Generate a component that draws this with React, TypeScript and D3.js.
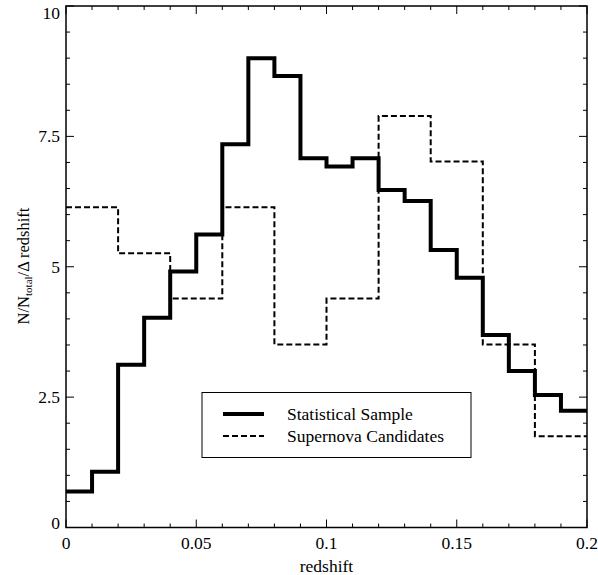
import * as d3 from "d3";

// bin edges for the statistical sample (0.01 wide) and supernova candidates (0.02 wide)
const sampleEdges = d3.range(0, 0.2001, 0.01).map((v) => +v.toFixed(3));
const sampleValues = [
  0.69, 1.07, 3.12, 4.02, 4.91, 5.62, 7.35, 9.0, 8.66, 7.08,
  6.92, 7.08, 6.47, 6.26, 5.32, 4.79, 3.69, 3.0, 2.54, 2.24,
];
const snEdges = d3.range(0, 0.2001, 0.02).map((v) => +v.toFixed(3));
const snValues = [6.14, 5.26, 4.39, 6.14, 3.51, 4.39, 7.89, 7.02, 3.51, 1.75];

const xTicks = [0, 0.05, 0.1, 0.15, 0.2];
const xTickLabels = ["0", "0.05", "0.1", "0.15", "0.2"];
const yTicks = [0, 2.5, 5, 7.5, 10];
const yTickLabels = ["0", "2.5", "5", "7.5", "10"];
const legendLabels = ["Statistical Sample", "Supernova Candidates"];

const W = 598;
const H = 575;
const M = { left: 66, right: 11, top: 6, bottom: 47.5 };
const font = "'Liberation Serif', 'Times New Roman', serif";

function stepPath(
  edges: number[],
  values: number[],
  x: d3.ScaleLinear<number, number>,
  y: d3.ScaleLinear<number, number>
) {
  const pts: [number, number][] = [];
  values.forEach((v, i) => {
    pts.push([x(edges[i]), y(v)]);
    pts.push([x(edges[i + 1]), y(v)]);
  });
  return d3.line()(pts) as string;
}

export default function App() {
  const x = d3.scaleLinear().domain([0, 0.2]).range([M.left, W - M.right]);
  const y = d3.scaleLinear().domain([0, 10]).range([H - M.bottom, M.top]);
  const [x0, x1] = x.range();
  const [y0, y1] = y.range();

  const xMinor = d3.range(0, 0.2001, 0.01);
  const yMinor = d3.range(0, 10.001, 0.5);

  // keep the end labels inside the frame, like the reference
  const yLabelBase = (t: number) => {
    const b = y(t) + 6;
    return Math.max(y1 + 13, Math.min(y0 + 1, b));
  };

  return (
    <svg
      width={W}
      height={H}
      style={{ position: "absolute", left: 0, top: 0, background: "#fff" }}
      fontFamily={font}
    >
      {/* ticks */}
      {xMinor.map((t, i) => {
        const major = xTicks.some((m) => Math.abs(m - t) < 1e-6);
        const len = major ? 8 : 4;
        return (
          <g key={"xt" + i} stroke="#000" strokeWidth={1}>
            <line x1={x(t)} x2={x(t)} y1={y0} y2={y0 - len} />
            <line x1={x(t)} x2={x(t)} y1={y1} y2={y1 + len} />
          </g>
        );
      })}
      {yMinor.map((t, i) => {
        const major = yTicks.some((m) => Math.abs(m - t) < 1e-6);
        const len = major ? 8 : 4;
        return (
          <g key={"yt" + i} stroke="#000" strokeWidth={1}>
            <line x1={x0} x2={x0 + len} y1={y(t)} y2={y(t)} />
            <line x1={x1} x2={x1 - len} y1={y(t)} y2={y(t)} />
          </g>
        );
      })}

      {/* histograms */}
      <path
        d={stepPath(snEdges, snValues, x, y)}
        fill="none"
        stroke="#000"
        strokeWidth={2}
        strokeDasharray="6,3"
      />
      <path
        d={stepPath(sampleEdges, sampleValues, x, y)}
        fill="none"
        stroke="#000"
        strokeWidth={4}
        strokeLinejoin="miter"
      />

      {/* frame */}
      <rect
        x={x0}
        y={y1}
        width={x1 - x0}
        height={y0 - y1}
        fill="none"
        stroke="#000"
        strokeWidth={1.5}
      />

      {/* tick labels */}
      {xTicks.map((t, i) => (
        <text key={"xl" + i} x={x(t)} y={y0 + 21} fontSize={17.5} textAnchor="middle">
          {xTickLabels[i]}
        </text>
      ))}
      {yTicks.map((t, i) => (
        <text
          key={"yl" + i}
          x={x0 - 6}
          y={yLabelBase(t)}
          fontSize={17.5}
          textAnchor="end"
        >
          {yTickLabels[i]}
        </text>
      ))}

      {/* axis titles */}
      <text x={x(0.1)} y={572} fontSize={17.5} textAnchor="middle">
        redshift
      </text>
      <text
        transform={`translate(29,266) rotate(-90)`}
        fontSize={16.5}
        textAnchor="middle"
      >
        N/N
        <tspan fontSize={11} dy={3}>
          total
        </tspan>
        <tspan dy={-3}>/Δ redshift</tspan>
      </text>

      {/* legend */}
      <rect x={202} y={392.5} width={269} height={65} fill="#fff" stroke="#000" strokeWidth={1} />
      <line x1={223} x2={264} y1={414} y2={414} stroke="#000" strokeWidth={4} />
      <line
        x1={223}
        x2={264}
        y1={436}
        y2={436}
        stroke="#000"
        strokeWidth={2}
        strokeDasharray="6,3"
      />
      <text x={287} y={420} fontSize={17.5}>
        {legendLabels[0]}
      </text>
      <text x={287} y={442} fontSize={17.5}>
        {legendLabels[1]}
      </text>
    </svg>
  );
}
